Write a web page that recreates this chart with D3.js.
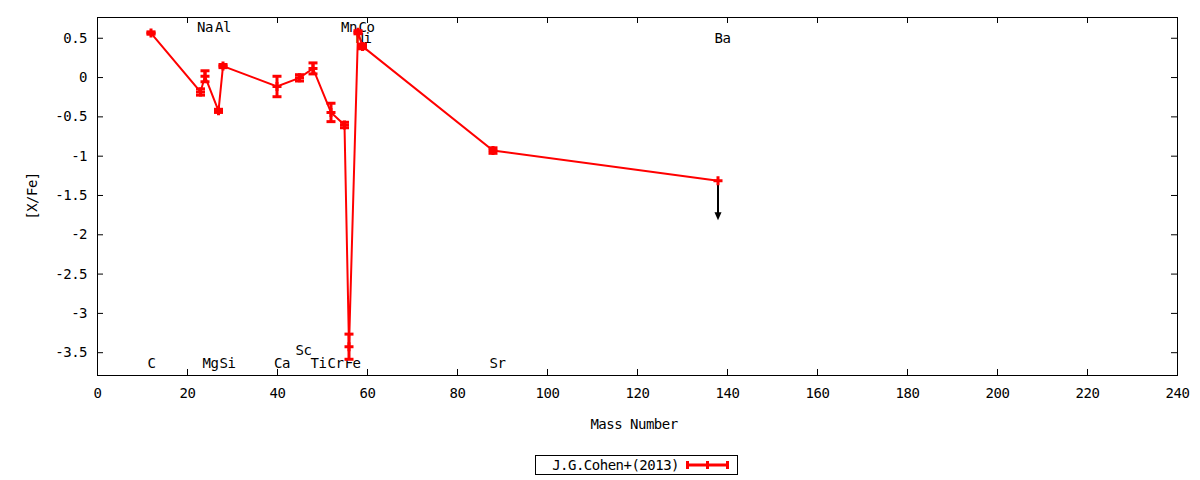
<!DOCTYPE html>
<html>
<head>
<meta charset="utf-8">
<script src="https://cdn.jsdelivr.net/npm/d3@7"></script>
<style>
  body { margin: 0; background: #fff; }
  svg { display: block; font-family: 'DejaVu Sans Mono', monospace; font-size: 14px; letter-spacing: -0.5px; }
</style>
</head>
<body>
<div id="chart-area"></div>
<script>
// abundances, ordered by mass number
const elements = ['C', 'Na', 'Mg', 'Al', 'Si', 'Ca', 'Sc', 'Ti', 'Cr', 'Mn', 'Fe', 'Ni', 'Co', 'Sr', 'Ba'];
const massNumbers = [12, 23, 24, 27, 28, 40, 45, 48, 52, 55, 56, 58, 59, 88, 138];
const xfe = [0.56, -0.19, 0.01, -0.43, 0.14, -0.12, -0.01, 0.11, -0.45, -0.61, -3.43, 0.57, 0.39, -0.935, -1.32];
const xfeErr = [0.015, 0.04, 0.07, 0.02, 0.02, 0.13, 0.04, 0.07, 0.117, 0.035, 0.16, 0.02, 0.03, 0.035, 0];
const upperLimit = [false, false, false, false, false, false, false, false, false, false, false, false, false, false, true];
const limitDrop = 0.5;

// element name labels (x in mass number, y in [X/Fe])
const labelNames = ['C', 'Na', 'Mg', 'Al', 'Si', 'Ca', 'Sc', 'Ti', 'Cr', 'Mn', 'Fe', 'Co', 'Ni', 'Sr', 'Ba'];
const labelMass = [12.1, 24.0, 25.2, 28.0, 29.0, 41.1, 45.9, 49.2, 53.0, 56.0, 56.8, 59.9, 59.2, 89.0, 139.0];
const labelY = [-3.64, 0.64, -3.64, 0.64, -3.64, -3.64, -3.47, -3.64, -3.64, 0.64, -3.64, 0.64, 0.5, -3.64, 0.5];

const xTicks = [0, 20, 40, 60, 80, 100, 120, 140, 160, 180, 200, 220, 240];
const yTicks = [0.5, 0, -0.5, -1, -1.5, -2, -2.5, -3, -3.5];
const seriesName = 'J.G.Cohen+(2013)';

let width = 1200;
let height = 480;
let red = '#ff0000';

let svg = d3
  .select('#chart-area')
  .append('svg')
  .attr('width', width)
  .attr('height', height);

let x = d3.scaleLinear().domain([0, 240]).range([97, 1177]);
let y = d3.scaleLinear().domain([-3.79, 0.764]).range([375, 17]);

let fmt = (d) => String(d);

//axes with inward ticks, mirrored on top and right
svg.append('g')
  .attr('transform', `translate(0, ${y.range()[0]})`)
  .call(d3.axisBottom(x).tickValues(xTicks).tickSize(-6).tickPadding(13).tickFormat(fmt));
svg.append('g')
  .attr('transform', `translate(0, ${y.range()[1]})`)
  .call(d3.axisTop(x).tickValues(xTicks).tickSize(-6).tickFormat(''));
svg.append('g')
  .attr('transform', `translate(${x.range()[0]}, 0)`)
  .call(d3.axisLeft(y).tickValues(yTicks).tickSize(-6).tickPadding(10).tickFormat(fmt));
svg.append('g')
  .attr('transform', `translate(${x.range()[1]}, 0)`)
  .call(d3.axisRight(y).tickValues(yTicks).tickSize(-6).tickFormat(''));

svg.selectAll('.domain').remove();
svg.selectAll('.tick text').attr('fill', '#000').style('font-family', "'DejaVu Sans Mono', monospace").style('font-size', '14px');
svg.selectAll('.tick line').attr('stroke', '#000');

//plot frame
svg.append('rect')
  .attr('x', x.range()[0] + 0.5)
  .attr('y', y.range()[1] + 0.5)
  .attr('width', x.range()[1] - x.range()[0])
  .attr('height', y.range()[0] - y.range()[1])
  .attr('fill', 'none')
  .attr('stroke', '#000');

//axis titles
svg.append('text')
  .attr('x', (x.range()[0] + x.range()[1]) / 2 - 3)
  .attr('y', 429)
  .attr('text-anchor', 'middle')
  .text('Mass Number');
svg.append('text')
  .attr('transform', `translate(37, ${(y.range()[0] + y.range()[1]) / 2}) rotate(-90)`)
  .attr('text-anchor', 'middle')
  .text('[X/Fe]');

//element labels
svg.append('g')
  .selectAll('text')
  .data(labelNames)
  .enter()
  .append('text')
  .attr('x', (d, i) => x(labelMass[i]))
  .attr('y', (d, i) => y(labelY[i]))
  .attr('dy', '0.36em')
  .attr('text-anchor', 'middle')
  .text((d) => d);

let points = elements.map((e, i) => ({
  name: e,
  mass: massNumbers[i],
  value: xfe[i],
  err: xfeErr[i],
  limit: upperLimit[i],
}));

//upper limit arrows (black)
let limits = points.filter((d) => d.limit);
let limitG = svg.append('g').selectAll('g').data(limits).enter().append('g');
limitG
  .append('line')
  .attr('x1', (d) => x(d.mass))
  .attr('x2', (d) => x(d.mass))
  .attr('y1', (d) => y(d.value))
  .attr('y2', (d) => y(d.value - limitDrop) - 4)
  .attr('stroke', '#000')
  .attr('stroke-width', 2);
limitG
  .append('path')
  .attr('d', (d) => {
    let px = x(d.mass);
    let py = y(d.value - limitDrop);
    return `M${px - 3.5},${py - 8}L${px + 3.5},${py - 8}L${px},${py}Z`;
  })
  .attr('fill', '#000');

//connecting line
svg.append('path')
  .datum(points)
  .attr('fill', 'none')
  .attr('stroke', red)
  .attr('stroke-width', 2)
  .attr('d', d3.line().x((d) => x(d.mass)).y((d) => y(d.value)));

//error bars and plus markers
let marks = svg.append('g').selectAll('g').data(points).enter().append('g');
marks
  .filter((d) => d.err > 0)
  .append('line')
  .attr('x1', (d) => x(d.mass))
  .attr('x2', (d) => x(d.mass))
  .attr('y1', (d) => y(d.value - d.err))
  .attr('y2', (d) => y(d.value + d.err))
  .attr('stroke', red)
  .attr('stroke-width', 3);
[-1, 1].forEach((s) => {
  marks
    .filter((d) => d.err > 0)
    .append('line')
    .attr('x1', (d) => x(d.mass) - 4.5)
    .attr('x2', (d) => x(d.mass) + 4.5)
    .attr('y1', (d) => y(d.value + s * d.err))
    .attr('y2', (d) => y(d.value + s * d.err))
    .attr('stroke', red)
    .attr('stroke-width', 3);
});
marks
  .append('path')
  .attr('d', (d) => {
    let px = x(d.mass);
    let py = y(d.value);
    return `M${px - 4.5},${py}H${px + 4.5}M${px},${py - 4.5}V${py + 4.5}`;
  })
  .attr('stroke', red)
  .attr('stroke-width', 3)
  .attr('fill', 'none');

//legend
let legend = svg.append('g');
legend
  .append('rect')
  .attr('x', 535.5)
  .attr('y', 455.5)
  .attr('width', 202)
  .attr('height', 19)
  .attr('fill', 'none')
  .attr('stroke', '#000');
legend
  .append('text')
  .attr('x', 679)
  .attr('y', 470)
  .attr('text-anchor', 'end')
  .text(seriesName);
legend
  .append('path')
  .attr('d', 'M686,465H729M687.5,461V469M727.5,461V469M707.5,461V469')
  .attr('stroke', red)
  .attr('stroke-width', 3)
  .attr('fill', 'none');
</script>
</body>
</html>
